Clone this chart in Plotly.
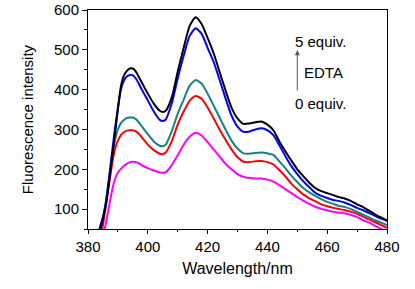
import plotly.graph_objects as go

wavelength = [383, 384, 385, 386, 387, 388, 389, 390, 391, 392, 393, 394, 395, 396, 397, 398,
              400, 402, 404, 405, 406, 408, 410, 412, 414, 416, 418, 420, 422, 424, 426, 428,
              430, 432, 434, 436, 438, 440, 442, 444, 446, 448, 450, 452, 454, 456, 458, 460,
              462, 464, 466, 468, 470, 472, 474, 476, 478, 480]

eq5_black = [10, 45, 75, 110, 165, 225, 288, 350, 408, 435, 447, 453, 453, 445, 432, 418,
             390, 365, 347, 344, 347, 380, 445, 505, 560, 582, 565, 530, 492, 445, 398, 355,
             328, 314, 315, 318, 320, 312, 298, 270, 245, 222, 200, 183, 166, 153, 145, 140,
             135, 130, 126, 120, 112, 105, 96, 87, 79, 72]
eq4_blue = [20, 55, 80, 118, 175, 240, 300, 355, 400, 422, 433, 437, 436, 428, 415, 400,
            373, 345, 324, 321, 325, 365, 428, 485, 535, 554, 540, 505, 470, 425, 378, 335,
            307, 294, 295, 300, 303, 298, 286, 260, 233, 208, 188, 170, 155, 141, 133, 128,
            123, 120, 116, 110, 103, 97, 90, 83, 76, 70]
eq2_teal = [0, 45, 75, 120, 175, 230, 272, 300, 316, 324, 329, 330, 330, 326, 318, 308,
            288, 270, 259, 258, 262, 295, 340, 375, 410, 424, 415, 390, 360, 330, 300, 272,
            252, 240, 239, 241, 242, 240, 236, 220, 203, 184, 168, 153, 142, 133, 125, 118,
            113, 108, 105, 100, 93, 86, 79, 72, 66, 60]
eq1_red = [0, 25, 60, 110, 160, 210, 250, 272, 286, 293, 297, 298, 298, 295, 289, 280,
           262, 248, 239, 238, 242, 270, 312, 345, 372, 384, 377, 355, 328, 300, 274, 250,
           230, 219, 218, 220, 221, 218, 212, 198, 182, 164, 150, 137, 127, 120, 112, 107,
           103, 100, 97, 93, 88, 81, 74, 67, 60, 53]
eq0_magenta = [0, 0, 30, 65, 105, 145, 175, 192, 201, 208, 214, 218, 219, 218, 215, 210,
               203, 197, 192, 191, 193, 210, 235, 262, 282, 292, 285, 268, 250, 232, 214, 200,
               188, 181, 178, 177, 177, 174, 169, 160, 150, 140, 130, 121, 113, 106, 101, 97,
               93, 91, 89, 85, 80, 72, 66, 58, 50, 44]

series = [
    ("0 equiv.", eq0_magenta, "#ff00ff"),
    ("1 equiv.", eq1_red, "#ff0000"),
    ("2 equiv.", eq2_teal, "#138282"),
    ("4 equiv.", eq4_blue, "#0000ff"),
    ("5 equiv.", eq5_black, "#000000"),
]

fig = go.Figure()
for name, vals, col in series:
    fig.add_trace(go.Scatter(x=wavelength, y=vals, mode="lines", name=name,
                             line=dict(color=col, width=2, shape="spline", smoothing=0.6),
                             showlegend=False, hoverinfo="skip"))

FONT = "Liberation Sans, Arial, sans-serif"

fig.update_layout(
    width=415, height=289,
    margin=dict(l=88, r=28, t=10, b=60),
    paper_bgcolor="white", plot_bgcolor="white",
    font=dict(family=FONT, size=15, color="black"),
)
fig.update_xaxes(
    range=[380, 480], dtick=20, tick0=380, automargin=False,
    showline=True, mirror=True, linecolor="black", linewidth=1,
    ticks="outside", ticklen=4, tickcolor="black",
    minor=dict(ticks="outside", ticklen=2, dtick=10, tickcolor="black"),
    showgrid=False, zeroline=False,
    title=dict(text="Wavelength/nm", font=dict(size=16), standoff=8),
)
fig.update_yaxes(
    range=[50, 600], dtick=100, tick0=0, automargin=False,
    showline=True, mirror=True, linecolor="black", linewidth=1,
    ticks="outside", ticklen=5, tickcolor="black",
    minor=dict(ticks="outside", ticklen=3, dtick=50, tickcolor="black"),
    showgrid=False, zeroline=False,
    title=dict(text="Fluorescence intensity", font=dict(size=15), standoff=16),
)

fig.add_annotation(x=450, y=499, ax=450, ay=394, xref="x", yref="y", axref="x", ayref="y",
                   text="", showarrow=True, arrowhead=2, arrowsize=1, arrowwidth=1,
                   arrowcolor="#555555")
fig.add_annotation(x=457.7, y=520, xref="x", yref="y", text="5 equiv.", showarrow=False,
                   font=dict(size=15))
fig.add_annotation(x=458.6, y=442, xref="x", yref="y", text="EDTA", showarrow=False,
                   font=dict(size=15))
fig.add_annotation(x=457.7, y=364, xref="x", yref="y", text="0 equiv.", showarrow=False,
                   font=dict(size=15))

fig.write_html("out.html", config={"displayModeBar": False},
               post_script="document.body.style.margin='0';")
